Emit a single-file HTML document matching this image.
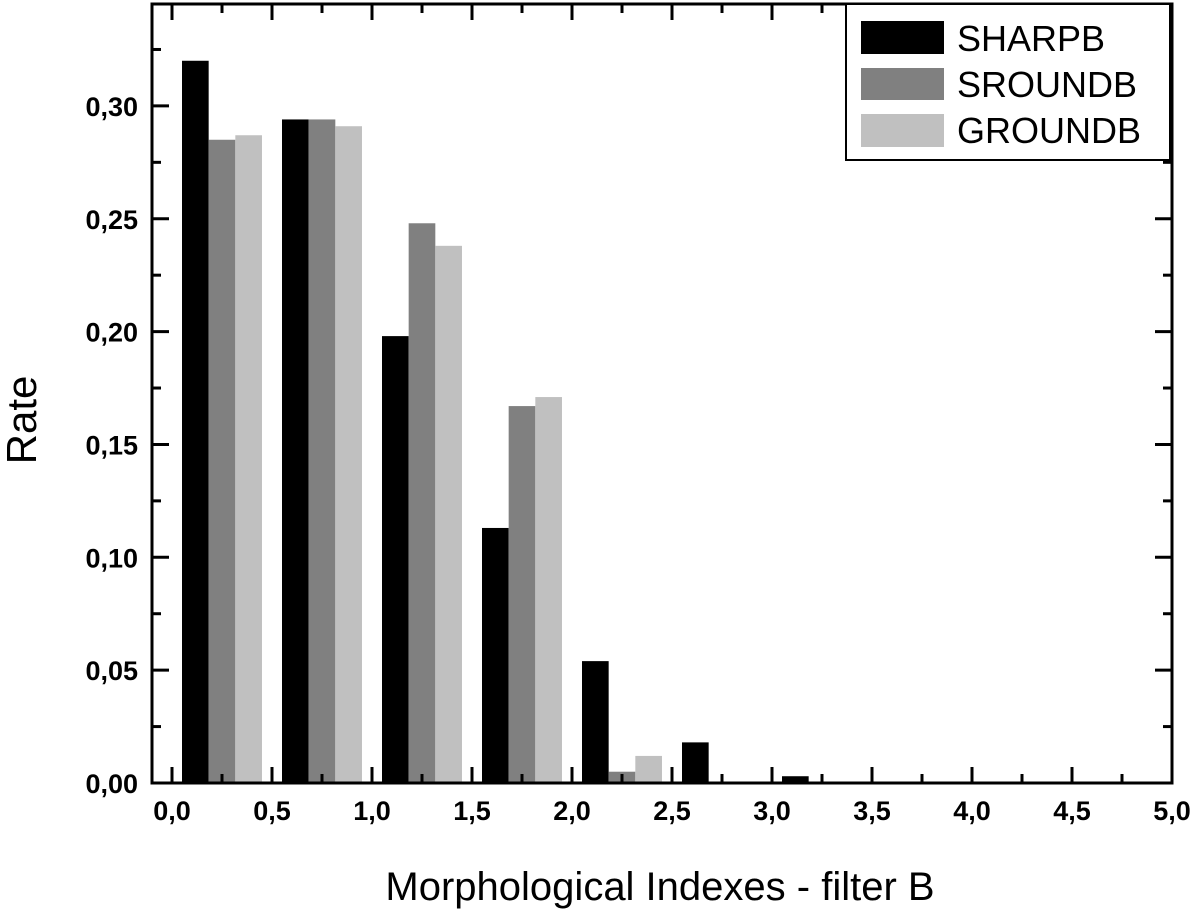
<!DOCTYPE html>
<html><head><meta charset="utf-8"><style>
body{margin:0;background:#fff}
svg{display:block;font-family:"Liberation Sans",Arial,sans-serif}
</style></head><body>
<svg id="chart" width="1200" height="918" viewBox="0 0 1200 918">
<g id="bars"></g>
<g id="ticks"></g>
<rect x="152" y="4" width="1020" height="779" fill="none" stroke="#000" stroke-width="3"/>
<text x="25" y="420" font-size="42" text-anchor="middle" transform="rotate(-90 25 420)" dominant-baseline="middle">Rate</text>
<text x="660" y="900" font-size="40" text-anchor="middle">Morphological Indexes - filter B</text>
<g>
<rect x="846" y="4" width="324" height="156" fill="#fff" stroke="#000" stroke-width="2"/>
<g><rect x="861" y="21" width="83" height="33" fill="#000"/><text x="957" y="51" font-size="36">SHARPB</text></g>
<g><rect x="861" y="68" width="83" height="32" fill="#808080"/><text x="957" y="97" font-size="36">SROUNDB</text></g>
<g><rect x="861" y="114" width="83" height="33" fill="#c0c0c0"/><text x="957" y="143" font-size="36">GROUNDB</text></g>
</g>
</svg>
<script>
const binStarts=[0,0.5,1,1.5,2,2.5,3,3.5,4,4.5];
const sharpb=[0.320,0.294,0.198,0.113,0.054,0.018,0.003,0.0005,0,0];
const sroundb=[0.285,0.294,0.248,0.167,0.005,0,0,0,0,0];
const groundb=[0.287,0.291,0.238,0.171,0.012,0,0,0,0,0];
const xTicks=["0,0","0,5","1,0","1,5","2,0","2,5","3,0","3,5","4,0","4,5","5,0"];
const yTicks=["0,00","0,05","0,10","0,15","0,20","0,25","0,30"];
const NS="http://www.w3.org/2000/svg";
const X=v=>172+v*200, Y=v=>783-v*2257;
const bars=document.getElementById('bars'), ticks=document.getElementById('ticks');
function mk(tag,attrs,parent){const e=document.createElementNS(NS,tag);for(const k in attrs)e.setAttribute(k,attrs[k]);parent.appendChild(e);return e;}
const series=[[sharpb,'#000','sharpb'],[sroundb,'#808080','sroundb'],[groundb,'#c0c0c0','groundb']];
series.forEach(([arr,col,nm],si)=>{arr.forEach((v,i)=>{
 const x0=X(binStarts[i]+0.05+si*0.1333), x1=X(binStarts[i]+0.05+(si+1)*0.1333);
 const r=mk('rect',{x:x0,y:Y(v),width:x1-x0,height:Math.max(0,783-Y(v)),fill:col},bars);
 
 
});});
xTicks.forEach((t,i)=>{const v=i*0.5,x=X(v);
 mk('line',{x1:x,x2:x,y1:783,y2:767,stroke:'#000','stroke-width':3},ticks);
 mk('line',{x1:x,x2:x,y1:4,y2:20,stroke:'#000','stroke-width':3},ticks);
 if(i<xTicks.length-1){const xm=X(v+0.25);
  mk('line',{x1:xm,x2:xm,y1:783,y2:774,stroke:'#000','stroke-width':3},ticks);
  mk('line',{x1:xm,x2:xm,y1:4,y2:13,stroke:'#000','stroke-width':3},ticks);}
 const tx=mk('text',{x:x,y:820,'font-size':27,'font-weight':'bold','text-anchor':'middle'},ticks);tx.textContent=t;
 
 
});
yTicks.forEach((t,i)=>{const v=i*0.05,y=Y(v);
 mk('line',{x1:152,x2:169,y1:y,y2:y,stroke:'#000','stroke-width':3},ticks);
 mk('line',{x1:1172,x2:1155,y1:y,y2:y,stroke:'#000','stroke-width':3},ticks);
 const ym=Y(v+0.025);
 mk('line',{x1:152,x2:161,y1:ym,y2:ym,stroke:'#000','stroke-width':3},ticks);
 mk('line',{x1:1172,x2:1163,y1:ym,y2:ym,stroke:'#000','stroke-width':3},ticks);
 const tx=mk('text',{x:138,y:y+10,'font-size':27,'font-weight':'bold','text-anchor':'end'},ticks);tx.textContent=t;
 
 
});
</script>
</body></html>
